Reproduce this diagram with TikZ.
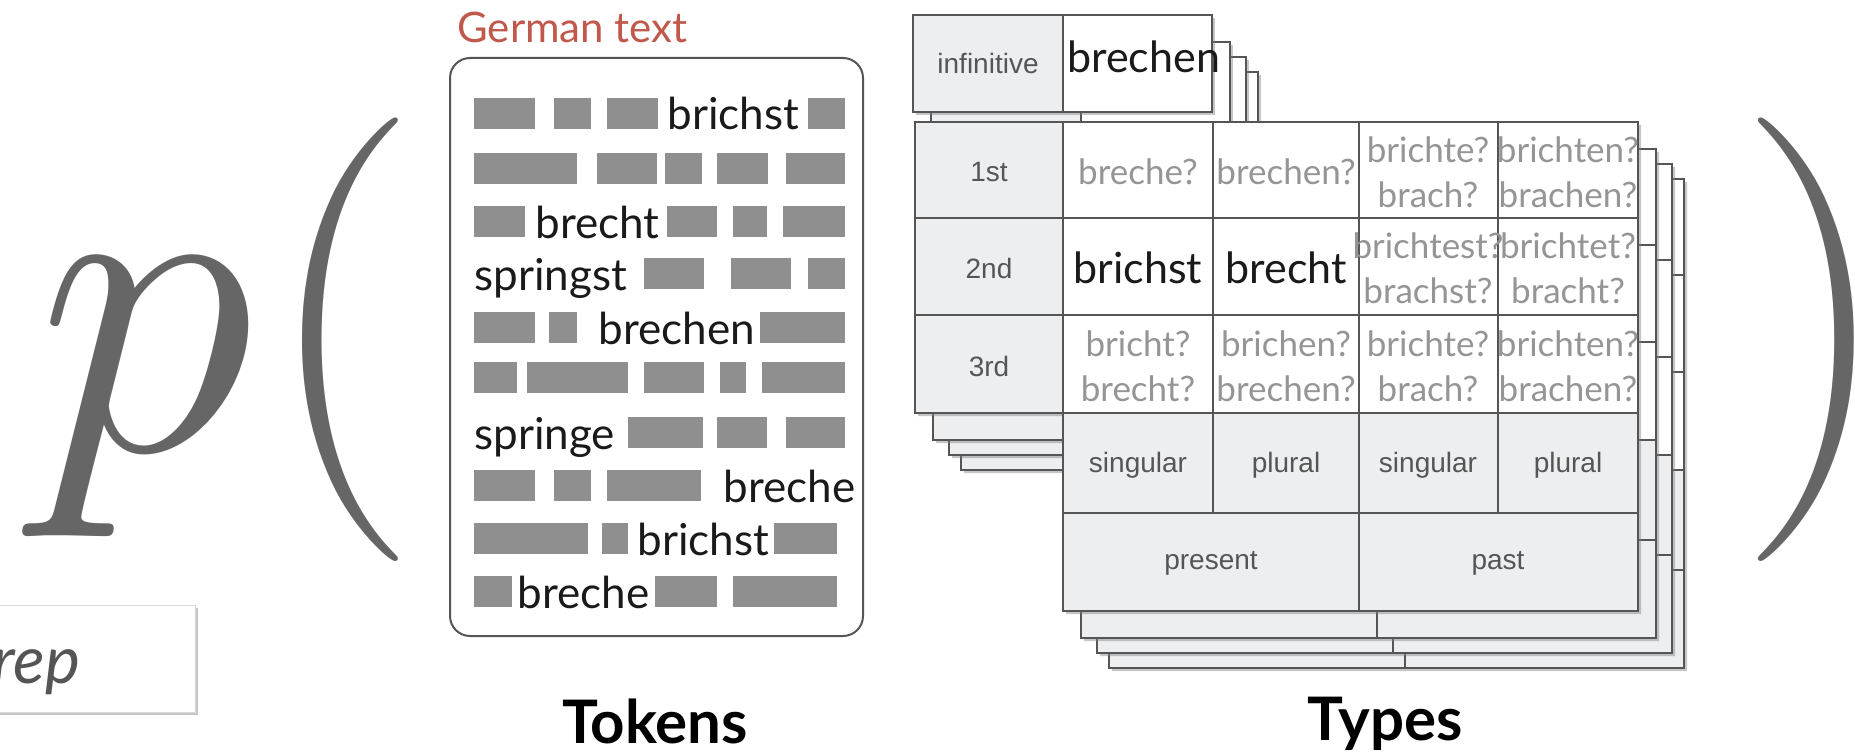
\documentclass[tikz,border=0pt]{standalone}
\usepackage{fix-cm}
\usepackage[no-math]{fontspec}
\setmainfont{Lato}
\newfontfamily\helv{Liberation Sans}
\usetikzlibrary{shadows}

\definecolor{inkgray}{HTML}{666666}
\definecolor{tokgray}{HTML}{8F8F8F}
\definecolor{rulegray}{HTML}{555555}
\definecolor{cellgray}{HTML}{EDEEF0}
\definecolor{guessgray}{HTML}{959595}
\definecolor{germanred}{HTML}{C0584B}
\definecolor{wordblack}{HTML}{1A1A1A}

\tikzset{
  tok/.style={anchor=base west, inner sep=0pt, text=wordblack, font=\fontsize{22}{22}\selectfont},
  tokblock/.style={fill=tokgray},
  lab/.style={inner sep=0pt, text=rulegray, font=\helv\fontsize{14}{14}\selectfont},
  guess/.style={inner sep=0pt, align=center, text=guessgray, font=\fontsize{17.5}{22.5}\selectfont},
  form/.style={inner sep=0pt, text=wordblack, font=\fontsize{21.5}{22}\selectfont},
  caption/.style={anchor=base, inner sep=0pt, text=black, font=\bfseries\fontsize{30}{30}\selectfont},
  bigmath/.style={anchor=base west, inner sep=0pt, text=inkgray, font=\fontsize{222}{222}\selectfont},
  sheetline/.style={draw=rulegray, line width=0.8pt},
  sheetshadow/.style={drop shadow={opacity=0.45, shadow xshift=1.5pt, shadow yshift=-1.5pt}}
}

% one sheet of the paradigm, shifted by (#1,#2)
\newcommand{\verbsheet}[2]{%
  \begin{scope}[shift={(#1,#2)}]
    \fill[white, sheetshadow] (915,122) -- (1638,122) -- (1638,611) -- (1063,611)
      -- (1063,413) -- (915,413) -- cycle;
    \fill[cellgray] (915,122) rectangle (1063,413);
    \fill[cellgray] (1063,413) rectangle (1638,611);
    \draw[sheetline] (915,122) -- (1638,122) -- (1638,611) -- (1063,611)
      -- (1063,413) -- (915,413) -- cycle;
    \draw[sheetline] (915,218) -- (1638,218) (915,315) -- (1638,315)
      (1063,413) -- (1638,413) (1063,513) -- (1638,513);
    \draw[sheetline] (1063,122) -- (1063,611) (1213,122) -- (1213,513)
      (1359,122) -- (1359,611) (1498,122) -- (1498,513);
    % infinitive tab
    \fill[white, sheetshadow] (913,15) rectangle (1212,112);
    \fill[cellgray] (913,15) rectangle (1063,112);
    \draw[sheetline] (913,15) rectangle (1212,112) (1063,15) -- (1063,112);
  \end{scope}}

\begin{document}
\begin{tikzpicture}[x=0.5pt, y=-0.5pt]
  \useasboundingbox (0,0) rectangle (1855,754);

  % p( ... )
  \node[bigmath] (pvar) at (36,450) {$p$};
  \node[bigmath] (lpar) at (262,450) {$($};
  \node[bigmath] (rpar) at (1737,450) {$)$};

  % rep box
  \fill[white, draw=black!15, sheetshadow] (-20,605) rectangle (195,712);
  \node[anchor=base west, inner sep=0pt, text=rulegray,
    font=\itshape\fontsize{33}{33}\selectfont] (rep) at (-8,683) {rep};

  % tokens
  \node[anchor=base west, inner sep=0pt, text=germanred,
    font=\fontsize{21}{21}\selectfont] (german) at (457,43) {German text};
  \draw[draw=rulegray, line width=1pt, rounded corners=10pt] (450,58) rectangle (863,636);
  \foreach \top/\blocks in {98/{474/535,554/591,607/658,808/845},
      153/{474/577,597/657,665/702,717/768,786/845},
      206/{474/525,667/717,733/767,783/845},
      258/{644/704,731/791,808/845},
      312/{474/535,549/577,760/845},
      362/{474/517,527/628,644/704,720/746,762/845},
      417/{628/703,717/767,786/845},
      470/{474/535,554/591,607/701},
      523/{474/588,602/628,774/837},
      576/{474/512,655/717,733/837}}
    \foreach \a/\b in \blocks
      \fill[tokblock] (\a,\top) rectangle (\b,\top+31);
  \node[tok] (t1) at (667,130) {brichst};
  \node[tok] (t3) at (535,238) {brecht};
  \node[tok] (t4) at (474,290) {springst};
  \node[tok] (t5) at (598,344) {brechen};
  \node[tok] (t7) at (474,449) {springe};
  \node[tok] (t8) at (723,502) {breche};
  \node[tok] (t9) at (637,555) {brichst};
  \node[tok] (t10) at (517,608) {breche};
  \node[caption] (tokens) at (655,743) {Tokens};

  % types: stacked sheets, front one last
  \verbsheet{46}{57}
  \verbsheet{34}{42}
  \verbsheet{18}{27}
  \verbsheet{0}{0}
  \node[lab] (inf) at (988,63) {infinitive};
  \node[form, anchor=base west] (lemma) at (1067,73) {brechen};
  \node[lab] (pers1) at (989,172) {1st};
  \node[lab] (pers2) at (989,268) {2nd};
  \node[lab] (pers3) at (989,366) {3rd};
  \node[guess] (c11) at (1138,172) {breche?};
  \node[guess] (c12) at (1286,172) {brechen?};
  \node[guess] (c13) at (1428,172) {brichte?\\brach?};
  \node[guess] (c14) at (1568,172) {brichten?\\brachen?};
  \node[form] (c21) at (1138,268) {brichst};
  \node[form] (c22) at (1286,268) {brecht};
  \node[guess] (c23) at (1428,268) {brichtest?\\brachst?};
  \node[guess] (c24) at (1568,268) {brichtet?\\bracht?};
  \node[guess] (c31) at (1138,366) {bricht?\\brecht?};
  \node[guess] (c32) at (1286,366) {brichen?\\brechen?};
  \node[guess] (c33) at (1428,366) {brichte?\\brach?};
  \node[guess] (c34) at (1568,366) {brichten?\\brachen?};
  \node[lab] (num1) at (1138,465) {singular};
  \node[lab] (num2) at (1286,465) {plural};
  \node[lab] (num3) at (1428,465) {singular};
  \node[lab] (num4) at (1568,465) {plural};
  \node[lab] (tense1) at (1211,563) {present};
  \node[lab] (tense2) at (1498,563) {past};
  \node[caption] (types) at (1385,740) {Types};
\end{tikzpicture}
\end{document}
